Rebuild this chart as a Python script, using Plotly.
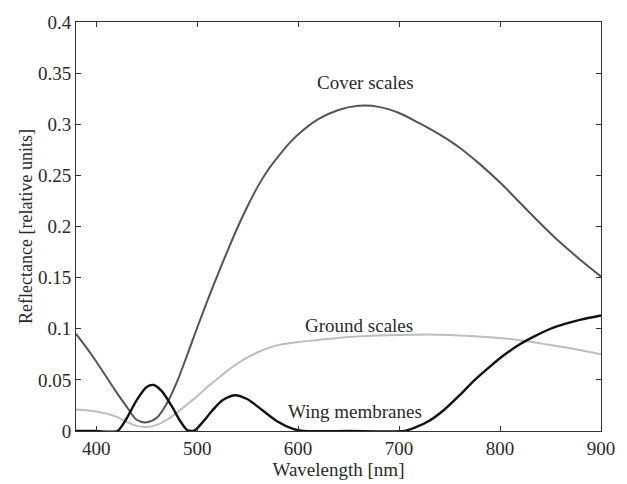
import plotly.graph_objects as go

cover_wl = [380, 390, 400, 410, 420, 430, 440, 450, 460, 470, 480, 490, 500, 510, 520, 530, 540, 550, 560, 570, 580, 590, 600, 620, 640, 660, 680, 700, 720, 740, 760, 780, 800, 820, 840, 860, 880, 900]
cover_val = [0.095, 0.082, 0.068, 0.053, 0.038, 0.024, 0.011, 0.0085, 0.013, 0.027, 0.048, 0.074, 0.101, 0.127, 0.152, 0.176, 0.199, 0.220, 0.239, 0.255, 0.268, 0.280, 0.290, 0.305, 0.314, 0.318, 0.317, 0.311, 0.301, 0.290, 0.277, 0.261, 0.243, 0.223, 0.203, 0.184, 0.167, 0.151]

ground_wl = [380, 400, 420, 430, 440, 450, 460, 470, 480, 490, 500, 510, 520, 530, 540, 550, 560, 570, 580, 600, 620, 650, 700, 750, 800, 825, 850, 875, 900]
ground_val = [0.021, 0.019, 0.014, 0.009, 0.005, 0.004, 0.006, 0.011, 0.018, 0.026, 0.034, 0.043, 0.051, 0.059, 0.066, 0.072, 0.077, 0.081, 0.084, 0.087, 0.089, 0.092, 0.094, 0.094, 0.091, 0.088, 0.084, 0.080, 0.075]

wing_wl = [380, 400, 421, 430, 440, 450, 457, 465, 475, 483, 490, 494, 498, 505, 515, 525, 537, 550, 565, 580, 595, 605, 650, 705, 715, 730, 745, 760, 775, 790, 805, 820, 835, 850, 865, 880, 900]
wing_val = [0.0, 0.0, 0.0, 0.012, 0.030, 0.043, 0.045, 0.039, 0.024, 0.010, 0.001, 0.0, 0.001, 0.008, 0.020, 0.030, 0.035, 0.031, 0.020, 0.009, 0.002, 0.0, 0.0, 0.0, 0.003, 0.010, 0.021, 0.035, 0.050, 0.063, 0.075, 0.085, 0.093, 0.100, 0.105, 0.109, 0.113]

x_ticks = [400, 500, 600, 700, 800, 900]
y_ticks = [0, 0.05, 0.1, 0.15, 0.2, 0.25, 0.3, 0.35, 0.4]
y_ticklabels = ["0", "0.05", "0.1", "0.15", "0.2", "0.25", "0.3", "0.35", "0.4"]

labels = ["Cover scales", "Ground scales", "Wing membranes"]
label_x = [667, 660, 656]
label_y = [0.341, 0.103, 0.019]

font_family = "Liberation Serif"
txt = "#2a2a2a"

fig = go.Figure()
fig.add_trace(go.Scatter(x=ground_wl, y=ground_val, mode="lines", line=dict(color="#bdbdbd", width=2, shape="spline", smoothing=0.8), showlegend=False))
fig.add_trace(go.Scatter(x=cover_wl, y=cover_val, mode="lines", line=dict(color="#555555", width=2, shape="spline", smoothing=0.8), showlegend=False))
fig.add_trace(go.Scatter(x=wing_wl, y=wing_val, mode="lines", line=dict(color="#111111", width=2.4, shape="spline", smoothing=0.7), showlegend=False))

for t, xx, yy in zip(labels, label_x, label_y):
    fig.add_annotation(x=xx, y=yy, text=t, showarrow=False, font=dict(family=font_family, size=19, color=txt))

fig.update_layout(
    width=627, height=484,
    margin=dict(l=76, r=22, t=13, b=53),
    plot_bgcolor="white", paper_bgcolor="white",
    font=dict(family=font_family, size=19, color=txt),
)
fig.update_xaxes(
    range=[380, 900], tickvals=x_ticks, ticks="inside", ticklen=5, tickcolor="#333",
    showline=True, linecolor="#333", linewidth=1, mirror="ticks", showgrid=False, zeroline=False,
    title=dict(text="Wavelength [nm]", standoff=0, font=dict(family=font_family, size=19, color=txt)),
    tickfont=dict(family=font_family, size=19, color=txt),
)
fig.update_yaxes(
    range=[0, 0.4], tickvals=y_ticks, ticktext=y_ticklabels, ticks="inside", ticklen=5, tickcolor="#333",
    showline=True, linecolor="#333", linewidth=1, mirror="ticks", showgrid=False, zeroline=False,
    title=dict(text="Reflectance [relative units]", standoff=0, font=dict(family=font_family, size=18, color=txt)),
    tickfont=dict(family=font_family, size=19, color=txt),
)

fig.write_html("out.html")
